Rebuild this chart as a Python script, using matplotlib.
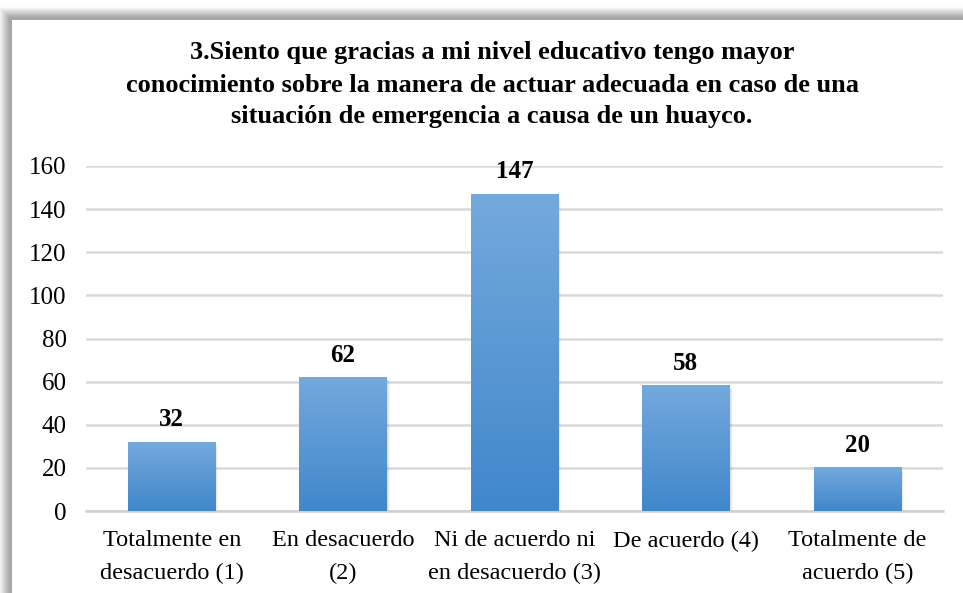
import numpy as np
import matplotlib
matplotlib.use('Agg')
import matplotlib.pyplot as plt
from matplotlib.patches import Rectangle

plt.rcParams['font.family'] = ['Liberation Serif', 'DejaVu Serif']

categories = ['Totalmente en\ndesacuerdo (1)', 'En desacuerdo\n(2)', 'Ni de acuerdo ni\nen desacuerdo (3)',
              'De acuerdo (4)', 'Totalmente de\nacuerdo (5)']
values = [32, 62, 147, 58, 20]
title = ('3.Siento que gracias a mi nivel educativo tengo mayor\n'
         'conocimiento sobre la manera de actuar adecuada en caso de una\n'
         'situación de emergencia a causa de un huayco.')

W, H = 963, 593
fig = plt.figure(figsize=(W / 100, H / 100), dpi=100)
fig.patch.set_facecolor('white')


def px(x, y):
    return x / W, 1 - y / H


# frame shadow (top / left), then the frame itself
for i in range(11, 0, -1):
    g = min(0.99, 0.62 + 0.033 * i)
    x0, y0 = px(10 - i, 18 - i)
    fig.add_artist(Rectangle((x0, -0.1), 1.2, y0 + 0.1, transform=fig.transFigure,
                             facecolor=(g, g, g), edgecolor='none', zorder=0))
x0, y0 = px(10, 18)
fig.add_artist(Rectangle((x0, -0.1), 1.2, y0 + 0.1, transform=fig.transFigure,
                         facecolor='#a6a6a6', edgecolor='none', zorder=0))
x0, y0 = px(12, 20)
fig.add_artist(Rectangle((x0, -0.1), 1.2, y0 + 0.1, transform=fig.transFigure,
                         facecolor='white', edgecolor='none', zorder=0))

left, right = px(86, 0)[0], px(943, 0)[0]
bottom, top = px(0, 511)[1], px(0, 166)[1]
ax = fig.add_axes([left, bottom, right - left, top - bottom])
ax.patch.set_alpha(0)

x = np.arange(len(values))
width = 0.51
bars = ax.bar(x, values, width=width, color='none', zorder=3)

top_c = np.array([116, 169, 221]) / 255
bot_c = np.array([64, 135, 203]) / 255
grad = np.linspace(0, 1, 256)[:, None]
grad_img = top_c[None, None, :] * (1 - grad[:, :, None]) + bot_c[None, None, :] * grad[:, :, None]
for b in bars:
    bx, bw, bh = b.get_x(), b.get_width(), b.get_height()
    # soft shadow
    for k, a in enumerate([0.10, 0.07, 0.04]):
        ax.add_patch(Rectangle((bx + 0.006 * (k + 1), -1.2 * (k + 1) * 0.5), bw, bh,
                               facecolor='#555555', alpha=a, edgecolor='none', zorder=2))
    ax.imshow(grad_img, extent=[bx, bx + bw, 0, bh], aspect='auto', zorder=3, interpolation='bilinear')
    ax.text(bx + bw / 2, bh + 5, str(b.get_height()), ha='center', va='bottom',
            fontsize=18, fontweight='bold', zorder=5)

ax.set_xlim(-0.5, len(values) - 0.5)
ax.set_ylim(0, 160)
ax.set_yticks(np.arange(0, 161, 20))
ax.set_xticks(x)
ax.set_xticklabels(categories, fontsize=17.5, linespacing=1.7)
ax.tick_params(axis='y', length=0, pad=14, labelsize=18)
ax.tick_params(axis='x', length=0, pad=14)
ax.grid(axis='y', color='#d9d9d9', linewidth=1.8, zorder=1)
ax.set_axisbelow(True)
for s in ['top', 'right', 'left']:
    ax.spines[s].set_visible(False)
ax.spines['bottom'].set_color('#d0d0d0')
ax.spines['bottom'].set_linewidth(1.8)

tx, ty = px(492, 85)
fig.text(tx, ty, title, ha='center', va='center', fontsize=19, fontweight='bold', linespacing=1.5)

fig.savefig('out.png', dpi=100, facecolor='white')
